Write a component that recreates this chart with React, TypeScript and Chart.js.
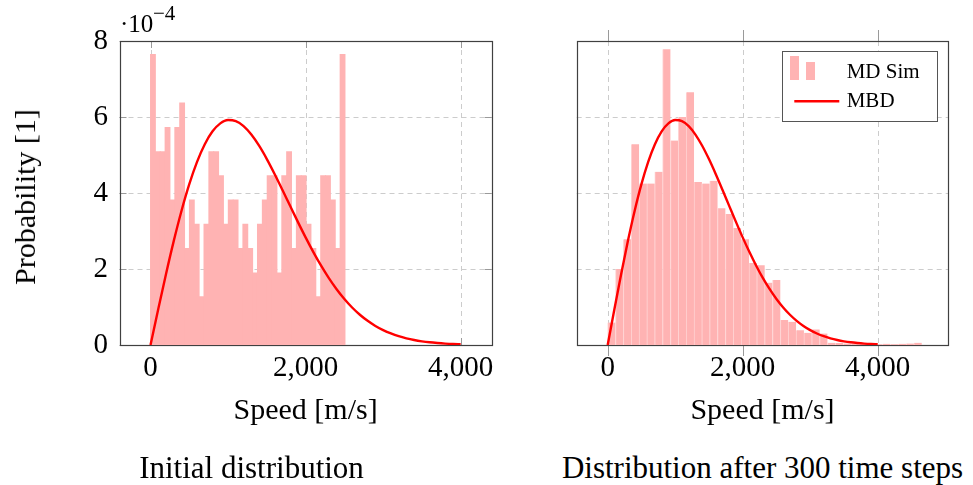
import React, { useEffect, useRef } from "react";
import { Chart, registerables } from "chart.js";

Chart.register(...registerables);

// ---------------- data ----------------
const Y_UNIT = 1e-4; // y values below are given in units of 10^-4

const leftBinWidth = 62.7; // m/s
const rightBinWidth = 116.3; // m/s

// Initial distribution histogram (probability density, x 10^-4), 40 bins from 0 m/s
const leftHistogram = [
  7.66, 5.1, 5.1, 5.74, 3.83, 5.74, 6.38, 2.55, 3.83, 3.19,
  1.28, 3.19, 5.1, 5.1, 4.47, 3.19, 3.83, 3.83, 2.55, 3.19,
  2.55, 1.91, 3.19, 3.83, 4.47, 4.47, 1.91, 4.47, 5.1, 2.55,
  4.47, 4.47, 3.19, 2.55, 1.28, 4.47, 4.47, 3.83, 2.55, 7.66,
];

// Distribution after 300 time steps (x 10^-4), 40 bins from 0 m/s
const rightHistogram = [
  0.59, 2.0, 2.78, 5.28, 4.25, 4.25, 4.56, 7.78, 5.38, 6.0,
  6.65, 4.29, 4.25, 4.32, 3.6, 3.45, 3.08, 2.78, 2.16, 2.1,
  1.64, 1.71, 0.66, 0.61, 0.39, 0.32, 0.41, 0.3, 0.06, 0.05,
  0.04, 0.04, 0.03, 0.02, 0.02, 0.03, 0.02, 0.03, 0.04, 0.06,
];

// Maxwell-Boltzmann distribution curve (x 10^-4)
const mbdSpeed = [
  0, 100, 200, 300, 400, 500, 600, 700, 800, 900,
  1000, 1100, 1200, 1300, 1400, 1500, 1600, 1700, 1800, 1900,
  2000, 2100, 2200, 2300, 2400, 2500, 2600, 2700, 2800, 2900,
  3000, 3100, 3200, 3300, 3400, 3500, 3600, 3700, 3800, 3900, 4000,
];
const mbdProbability = [
  0, 0.949, 1.871, 2.741, 3.534, 4.232, 4.82, 5.285, 5.623, 5.833,
  5.92, 5.891, 5.76, 5.538, 5.244, 4.893, 4.502, 4.087, 3.662, 3.24,
  2.832, 2.445, 2.087, 1.76, 1.468, 1.211, 0.987, 0.796, 0.636, 0.501,
  0.392, 0.303, 0.231, 0.175, 0.131, 0.097, 0.071, 0.052, 0.037, 0.026, 0.019,
];

const xTickValues = [0, 2000, 4000];
const yTickValues = [0, 2, 4, 6, 8];
const leftXRange = [-400, 4400];
const rightXRange = [-459, 5046];
const yRange = [0, 8];
const seriesLabels = ["MD Sim", "MBD"];

// ---------------- styling ----------------
const FONT = '"Liberation Serif", "Times New Roman", Times, serif';
const BAR_COLOR = "#ffb3b3";
const LINE_COLOR = "#ff0000";

type Side = "left" | "right";

function axisPlugin(side: Side) {
  return {
    id: "pgfAxis" + side,
    beforeDatasetsDraw(chart: any) {
      const { ctx, chartArea: a, scales } = chart;
      const xs = scales.x;
      const ys = scales.y;
      ctx.save();
      // dashed grid
      ctx.strokeStyle = "#cccccc";
      ctx.lineWidth = 1;
      ctx.setLineDash([5, 4]);
      xTickValues.forEach((v) => {
        const px = Math.round(xs.getPixelForValue(v)) + 0.5;
        ctx.beginPath();
        ctx.moveTo(px, a.top);
        ctx.lineTo(px, a.bottom);
        ctx.stroke();
      });
      yTickValues.forEach((v) => {
        if (v === yRange[0] || v === yRange[1]) return;
        const py = Math.round(ys.getPixelForValue(v * Y_UNIT)) + 0.5;
        ctx.beginPath();
        ctx.moveTo(a.left, py);
        ctx.lineTo(a.right, py);
        ctx.stroke();
      });
      ctx.setLineDash([]);
      // tick marks
      ctx.strokeStyle = "#9a9a9a";
      if (side === "left") {
        const tl = 7;
        xTickValues.forEach((v) => {
          const px = Math.round(xs.getPixelForValue(v)) + 0.5;
          ctx.beginPath();
          ctx.moveTo(px, a.top);
          ctx.lineTo(px, a.top + tl);
          ctx.moveTo(px, a.bottom);
          ctx.lineTo(px, a.bottom - tl);
          ctx.stroke();
        });
        yTickValues.forEach((v) => {
          const py = Math.round(ys.getPixelForValue(v * Y_UNIT)) + 0.5;
          ctx.beginPath();
          ctx.moveTo(a.left, py);
          ctx.lineTo(a.left + tl, py);
          ctx.moveTo(a.right, py);
          ctx.lineTo(a.right - tl, py);
          ctx.stroke();
        });
      } else {
        const tl = 11;
        xTickValues.forEach((v) => {
          const px = Math.round(xs.getPixelForValue(v)) + 0.5;
          ctx.beginPath();
          ctx.moveTo(px, a.top - tl);
          ctx.lineTo(px, a.top);
          ctx.moveTo(px, a.bottom);
          ctx.lineTo(px, a.bottom + tl);
          ctx.stroke();
        });
      }
      // frame
      ctx.strokeStyle = "#404040";
      ctx.lineWidth = 1.2;
      ctx.strokeRect(
        Math.round(a.left) + 0.5,
        Math.round(a.top) + 0.5,
        Math.round(a.right) - Math.round(a.left),
        Math.round(a.bottom) - Math.round(a.top)
      );
      ctx.restore();
    },
  };
}

const legendPlugin = {
  id: "pgfLegend",
  afterDraw(chart: any) {
    const { ctx, chartArea: a } = chart;
    const ds = chart.data.datasets;
    const barDs = ds.find((d: any) => d.type === "bar");
    const lineDs = ds.find((d: any) => d.type === "line");
    const w = 155;
    const h = 70;
    const x0 = a.right - 11.6 - w;
    const y0 = a.top + 9.7;
    ctx.save();
    ctx.fillStyle = "#ffffff";
    ctx.fillRect(x0, y0, w, h);
    ctx.strokeStyle = "#555555";
    ctx.lineWidth = 1;
    ctx.strokeRect(Math.round(x0) + 0.5, Math.round(y0) + 0.5, w, h);
    // bar icon
    ctx.fillStyle = barDs.backgroundColor;
    ctx.fillRect(x0 + 8.3, y0 + 5.3, 9, 24);
    ctx.fillRect(x0 + 24.3, y0 + 11.3, 9, 18);
    // line icon
    ctx.strokeStyle = lineDs.borderColor;
    ctx.lineWidth = 2.4;
    ctx.beginPath();
    ctx.moveTo(x0 + 12.6, y0 + 50.6);
    ctx.lineTo(x0 + 57.6, y0 + 50.6);
    ctx.stroke();
    ctx.fillStyle = "#000";
    ctx.font = `21px ${FONT}`;
    ctx.textBaseline = "alphabetic";
    ctx.textAlign = "left";
    ctx.fillText(barDs.label, x0 + 65, y0 + 27.5);
    ctx.fillText(lineDs.label, x0 + 65, y0 + 56);
    ctx.restore();
  },
};

function makeConfig(side: Side): any {
  const isLeft = side === "left";
  const hist = isLeft ? leftHistogram : rightHistogram;
  const bw = isLeft ? leftBinWidth : rightBinWidth;
  const xr = isLeft ? leftXRange : rightXRange;
  const canvasW = isLeft ? 530 : 433;
  return {
    type: "bar",
    data: {
      datasets: [
        {
          type: "line",
          label: seriesLabels[1],
          data: mbdSpeed.map((s, i) => ({ x: s, y: mbdProbability[i] * Y_UNIT })),
          borderColor: LINE_COLOR,
          borderWidth: 2.4,
          pointRadius: 0,
          fill: false,
          cubicInterpolationMode: "monotone",
          order: 0,
        },
        {
          type: "bar",
          label: seriesLabels[0],
          data: hist.map((v, i) => ({ x: (i + 0.5) * bw, y: v * Y_UNIT })),
          backgroundColor: BAR_COLOR,
          borderColor: isLeft ? BAR_COLOR : "#ffd2d2",
          borderWidth: isLeft ? 0 : { left: 1, right: 0, top: 0, bottom: 0 },
          borderSkipped: false,
          barPercentage: isLeft ? 1.2 : 1.0,
          categoryPercentage: 1.0,
          order: 1,
        },
      ],
    },
    options: {
      animation: false,
      responsive: false,
      events: [],
      layout: {
        padding: {
          left: isLeft ? 0 : 36.7,
          right: isLeft ? canvasW - 491.7 : canvasW - 408.3,
          top: 41,
          bottom: 5,
        },
      },
      plugins: {
        legend: { display: false },
        tooltip: { enabled: false },
        title: { display: false },
      },
      scales: {
        x: {
          type: "linear",
          offset: false,
          min: xr[0],
          max: xr[1],
          grid: { display: false, drawTicks: false, offset: false },
          border: { display: false },
          afterBuildTicks: (s: any) => {
            s.ticks = xTickValues.map((v) => ({ value: v }));
          },
          afterFit: (s: any) => {
            s.height = 50;
          },
          ticks: {
            autoSkip: false,
            maxRotation: 0,
            padding: 5.6,
            color: "#000",
            font: { family: FONT, size: 29 },
            callback: (v: any) => Number(v).toLocaleString("en-US"),
          },
        },
        y: {
          type: "linear",
          min: yRange[0] * Y_UNIT,
          max: yRange[1] * Y_UNIT,
          grid: { display: false, drawTicks: false },
          border: { display: false },
          afterBuildTicks: (s: any) => {
            s.ticks = yTickValues.map((v) => ({ value: v * Y_UNIT }));
          },
          afterFit: (s: any) => {
            s.width = isLeft ? 119.5 : 0;
          },
          ticks: {
            display: isLeft,
            autoSkip: false,
            padding: 11.5,
            color: "#000",
            font: { family: FONT, size: 29 },
            callback: (v: any) => String(Math.round(Number(v) / Y_UNIT)),
          },
        },
      },
    },
    plugins: isLeft ? [axisPlugin("left")] : [axisPlugin("right"), legendPlugin],
  };
}

const baseText: React.CSSProperties = {
  position: "absolute",
  fontFamily: FONT,
  lineHeight: 1,
  whiteSpace: "nowrap",
  color: "#000",
};

export default function App() {
  const leftRef = useRef<HTMLCanvasElement>(null);
  const rightRef = useRef<HTMLCanvasElement>(null);

  useEffect(() => {
    const c1 = new Chart(leftRef.current as HTMLCanvasElement, makeConfig("left"));
    const c2 = new Chart(rightRef.current as HTMLCanvasElement, makeConfig("right"));
    return () => {
      c1.destroy();
      c2.destroy();
    };
  }, []);

  return (
    <div
      style={{
        position: "absolute",
        left: 0,
        top: 0,
        width: 973,
        height: 485,
        overflow: "hidden",
        background: "#fff",
      }}
    >
      <canvas ref={leftRef} width={530} height={400} style={{ position: "absolute", left: 0, top: 0 }} />
      <canvas ref={rightRef} width={433} height={400} style={{ position: "absolute", left: 540, top: 0 }} />

      {/* axis multiplier */}
      <div style={{ ...baseText, fontSize: 25, left: 120, top: 10.8 }}>·10</div>
      <div style={{ ...baseText, fontSize: 21, left: 153, top: 3.1 }}>−4</div>

      {/* y axis label */}
      <div
        style={{
          ...baseText,
          fontSize: 30,
          left: 25,
          top: 196.5,
          transform: "translate(-50%, -50%) rotate(-90deg)",
        }}
      >
        Probability [1]
      </div>

      {/* x axis labels */}
      <div style={{ ...baseText, fontSize: 30, left: 305.6, top: 394, transform: "translateX(-50%)" }}>
        Speed [m/s]
      </div>
      <div style={{ ...baseText, fontSize: 30, left: 762.5, top: 394, transform: "translateX(-50%)" }}>
        Speed [m/s]
      </div>

      {/* captions */}
      <div style={{ ...baseText, fontSize: 31, left: 251.5, top: 452, transform: "translateX(-50%)" }}>
        Initial distribution
      </div>
      <div style={{ ...baseText, fontSize: 31, left: 762.5, top: 452, transform: "translateX(-50%)" }}>
        Distribution after 300 time steps
      </div>
    </div>
  );
}
